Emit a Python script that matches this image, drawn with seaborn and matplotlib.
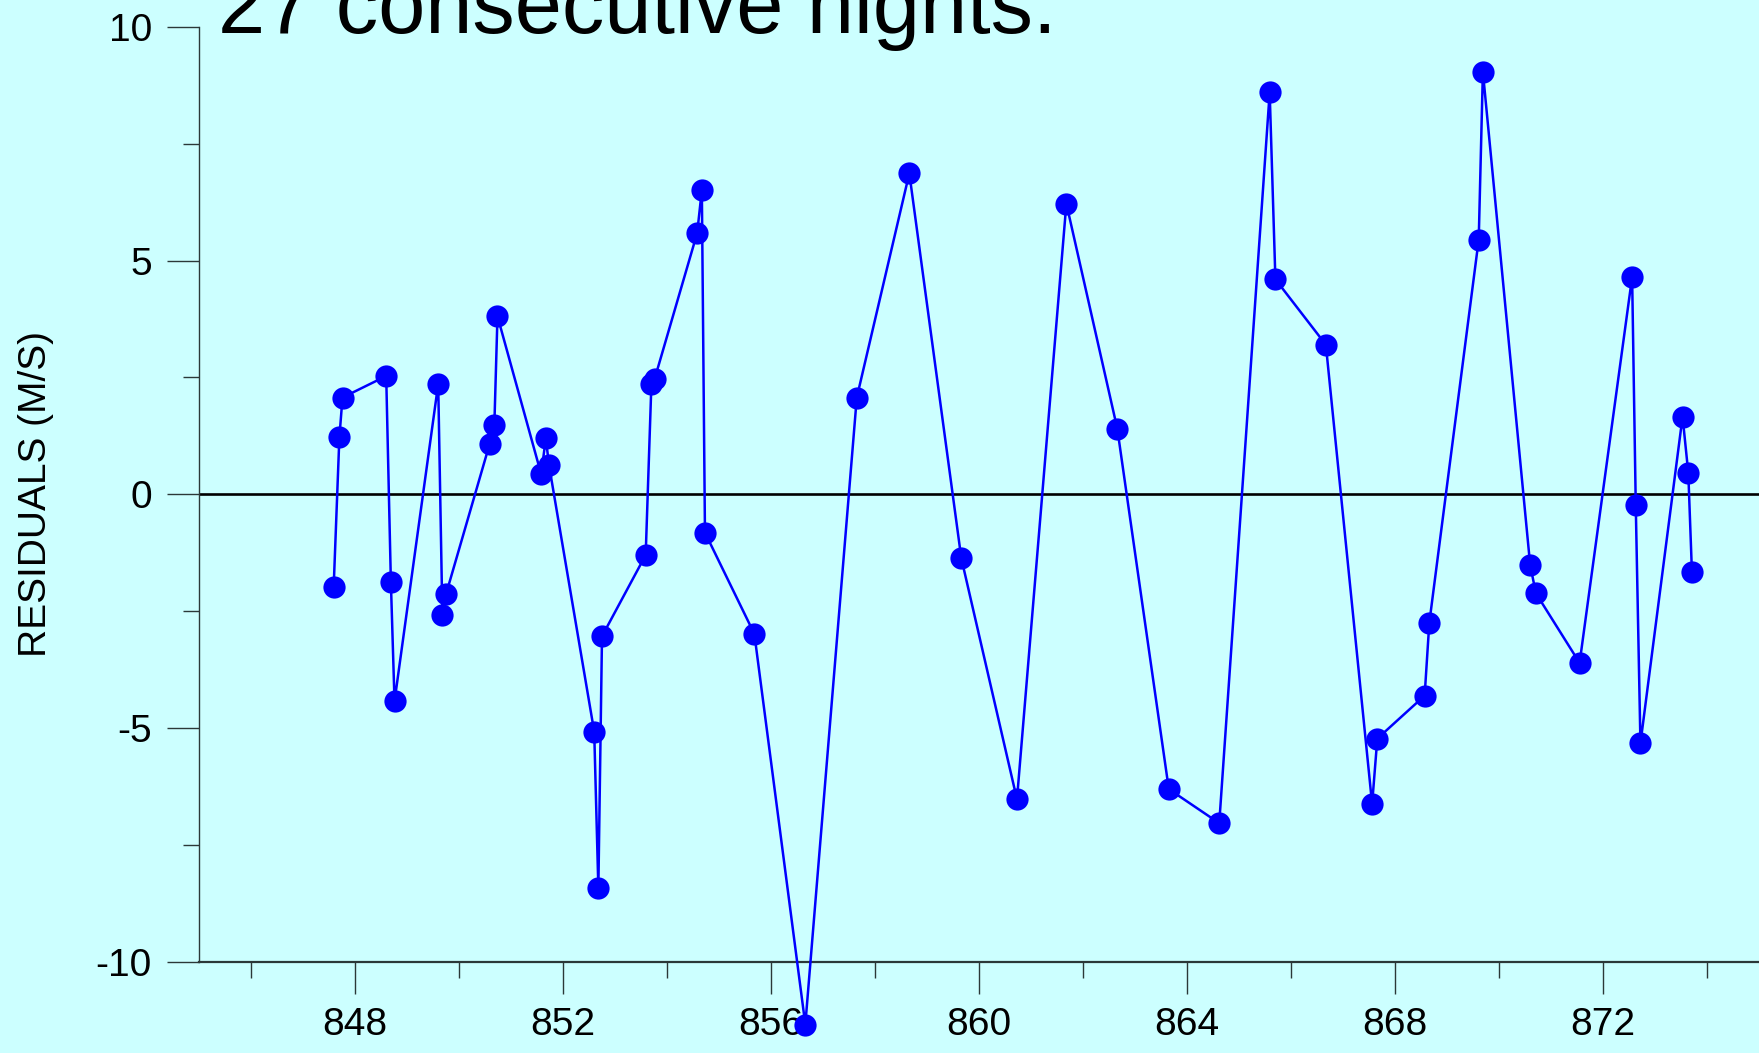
import matplotlib
matplotlib.use("Agg")
import matplotlib.pyplot as plt
import pandas as pd
import seaborn as sns

# Observation time (days) and radial-velocity residuals (m/s)
julian_day = [
    847.59, 847.70, 847.76, 848.60, 848.69, 848.76, 849.60, 849.68, 849.75,
    850.59, 850.68, 850.74, 851.58, 851.67, 851.73, 852.60, 852.68, 852.75,
    853.59, 853.70, 853.76, 854.58, 854.67, 854.73, 855.68, 856.66, 857.65,
    858.66, 859.66, 860.73, 861.68, 862.66, 863.65, 864.62, 865.59, 865.70,
    866.67, 867.56, 867.66, 868.57, 868.66, 869.61, 869.69, 870.60, 870.71,
    871.55, 872.56, 872.63, 872.72, 873.53, 873.64, 873.71,
]
residual = [
    -1.98, 1.23, 2.07, 2.53, -1.88, -4.43, 2.36, -2.58, -2.14,
    1.08, 1.49, 3.81, 0.43, 1.20, 0.63, -5.08, -8.43, -3.04,
    -1.30, 2.36, 2.46, 5.59, 6.51, -0.82, -2.99, -11.35, 2.07,
    6.87, -1.37, -6.53, 6.22, 1.40, -6.31, -7.04, 8.60, 4.60,
    3.20, -6.63, -5.23, -4.31, -2.75, 5.45, 9.04, -1.52, -2.12,
    -3.61, 4.65, -0.24, -5.33, 1.66, 0.46, -1.66,
]

x_major = [848, 852, 856, 860, 864, 868, 872]
x_minor = [846, 850, 854, 858, 862, 866, 870, 874]
y_major = [-10, -5, 0, 5, 10]
y_minor = [-7.5, -2.5, 2.5, 7.5]
title_text = "27 consecutive nights."
y_label = "RESIDUALS (M/S)"

sns.set_theme(style="ticks")
plt.rcParams["font.family"] = ["Liberation Sans", "DejaVu Sans"]
plt.rcParams["axes.unicode_minus"] = False

bg = "#CCFFFF"
axis_col = "#2B3838"
W, H = 1759, 1053

fig = plt.figure(figsize=(W / 100, H / 100), dpi=100, facecolor=bg)
left_px, top_px, bottom_px = 199, 27, 961.5
ax = fig.add_axes([left_px / W, (H - bottom_px) / H,
                   (W - left_px) / W, (bottom_px - top_px) / H])
ax.set_facecolor(bg)

df = pd.DataFrame({"day": julian_day, "resid": residual})

ax.axhline(0, color="black", linewidth=1.9, zorder=1)
sns.lineplot(data=df, x="day", y="resid", sort=False, estimator=None,
             color="#0000FF", linewidth=1.8, marker="o", markersize=16,
             markeredgewidth=0, ax=ax, zorder=3)
for ln in ax.lines:
    if ln.get_color() != "black":
        ln.set_clip_on(False)

ax.set_xlim(845, 875)
ax.set_ylim(-10, 10)

ax.set_xticks(x_major)
ax.set_xticklabels([str(v) for v in x_major])
ax.set_xticks(x_minor, minor=True)
ax.set_yticks(y_major)
ax.set_yticklabels([str(v) for v in y_major])
ax.set_yticks(y_minor, minor=True)

ax.tick_params(axis="both", which="major", direction="out", length=23,
               width=1.0, color=axis_col, labelsize=28, labelcolor="black")
ax.tick_params(axis="both", which="minor", direction="out", length=11.5,
               width=1.0, color=axis_col)
ax.tick_params(axis="x", which="major", pad=10)
ax.tick_params(axis="y", which="major", pad=11)

for side in ("top", "right"):
    ax.spines[side].set_visible(False)
ax.spines["left"].set_color(axis_col)
ax.spines["left"].set_linewidth(1.0)
ax.spines["bottom"].set_color(axis_col)
ax.spines["bottom"].set_linewidth(1.6)

ax.set_xlabel("")
ax.set_ylabel(y_label, fontsize=28, color="black")
ax.yaxis.label.set_verticalalignment("center")
ax.yaxis.set_label_coords((36 - left_px) / (W - left_px), 0.5)

fig.text(218 / W, 1 - 33 / H, title_text, fontsize=61, color="black",
         ha="left", va="baseline")

fig.savefig("out.png", dpi=100, facecolor=bg)
